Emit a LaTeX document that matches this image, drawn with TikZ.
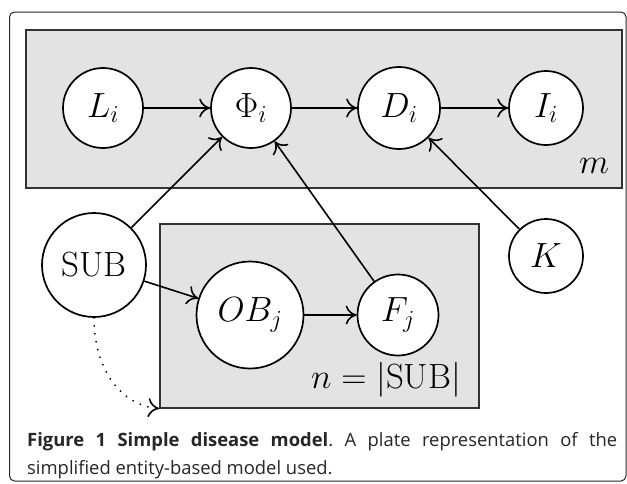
\RequirePackage{fix-cm}
\documentclass[tikz,border=0pt]{standalone}
\usepackage{fontspec}
\newfontfamily\captionfont{Open Sans}
\usetikzlibrary{arrows.meta}

\begin{document}
\begin{tikzpicture}[x=1pt, y=-1pt,
    var/.style={circle, draw, fill=white, line width=1.7pt, inner sep=0pt,
        font=\fontsize{35}{42}\selectfont},
    plate/.style={draw=black!80, fill=black!11, line width=1.5pt, inner sep=0pt,
        anchor=north west},
    edge/.style={line width=1.6pt, -{To[length=11pt, width=19pt]}}]
    \useasboundingbox (0,0) rectangle (627,483);

    % Outer frame
        \draw[black!85, line width=1pt, rounded corners=5pt] (9.5,12) rectangle (626,481);

    % Plates
        % variables
        \def\rowTop{108}
        \def\rowBottom{315}
    
        % plates
        \node[plate, minimum width=596pt, minimum height=158pt] (mplate) at (25,29) {};
        \node[plate, minimum width=319pt, minimum height=184pt] (nplate) at (159,223) {};
        \node[font=\fontsize{35}{42}\selectfont] (mlabel) at (594,166) {$m$};
        \node[font=\fontsize{35}{42}\selectfont] (nlabel) at (386,380) {$n = |\mathrm{SUB}|$};

    % Variables
        \node[var, minimum size=80pt] (L) at (103,\rowTop) {$L_i$};
        \node[var, minimum size=80pt] (Phi) at (251,\rowTop) {$\Phi_i$};
        \node[var, minimum size=82pt] (D) at (399,\rowTop) {$D_i$};
        \node[var, minimum size=74pt] (I) at (546,\rowTop) {$I_i$};
        \node[var, minimum size=104pt] (SUB) at (94,265) {$\mathrm{SUB}$};
        \node[var, minimum size=107pt] (OB) at (250,\rowBottom) {$OB_j$};
        \node[var, minimum size=81pt] (F) at (398,\rowBottom) {$F_j$};
        \node[var, minimum size=74pt] (K) at (546,256) {$K$};

    % Edges
        \draw[edge] (L) -- (Phi);
        \draw[edge] (Phi) -- (D);
        \draw[edge] (D) -- (I);
        \draw[edge] (SUB) -- (Phi);
        \draw[edge] (F) -- (Phi);
        \draw[edge] (K) -- (D);
        \draw[edge] (SUB) -- (OB);
        \draw[edge] (OB) -- (F);

    % Dotted arrow to the plate
        \draw[line width=2pt, line cap=round, dash pattern=on 0pt off 8pt,
            -{To[length=11pt, width=19pt, line width=1.6pt]}]
            (SUB.south) .. controls +(0,53) and +(-37,-3) .. (nplate.south west);

    % Caption
        \node[anchor=base west, text width=590pt, align=justify, inner sep=0pt,
            font=\captionfont\fontsize{18.4}{28}\selectfont\frenchspacing, text=black!85] (caption) at (27,446)
            {\textbf{Figure 1 Simple disease model}. A plate representation of the\linebreak
            simplified entity-based model used.};
\end{tikzpicture}
\end{document}
